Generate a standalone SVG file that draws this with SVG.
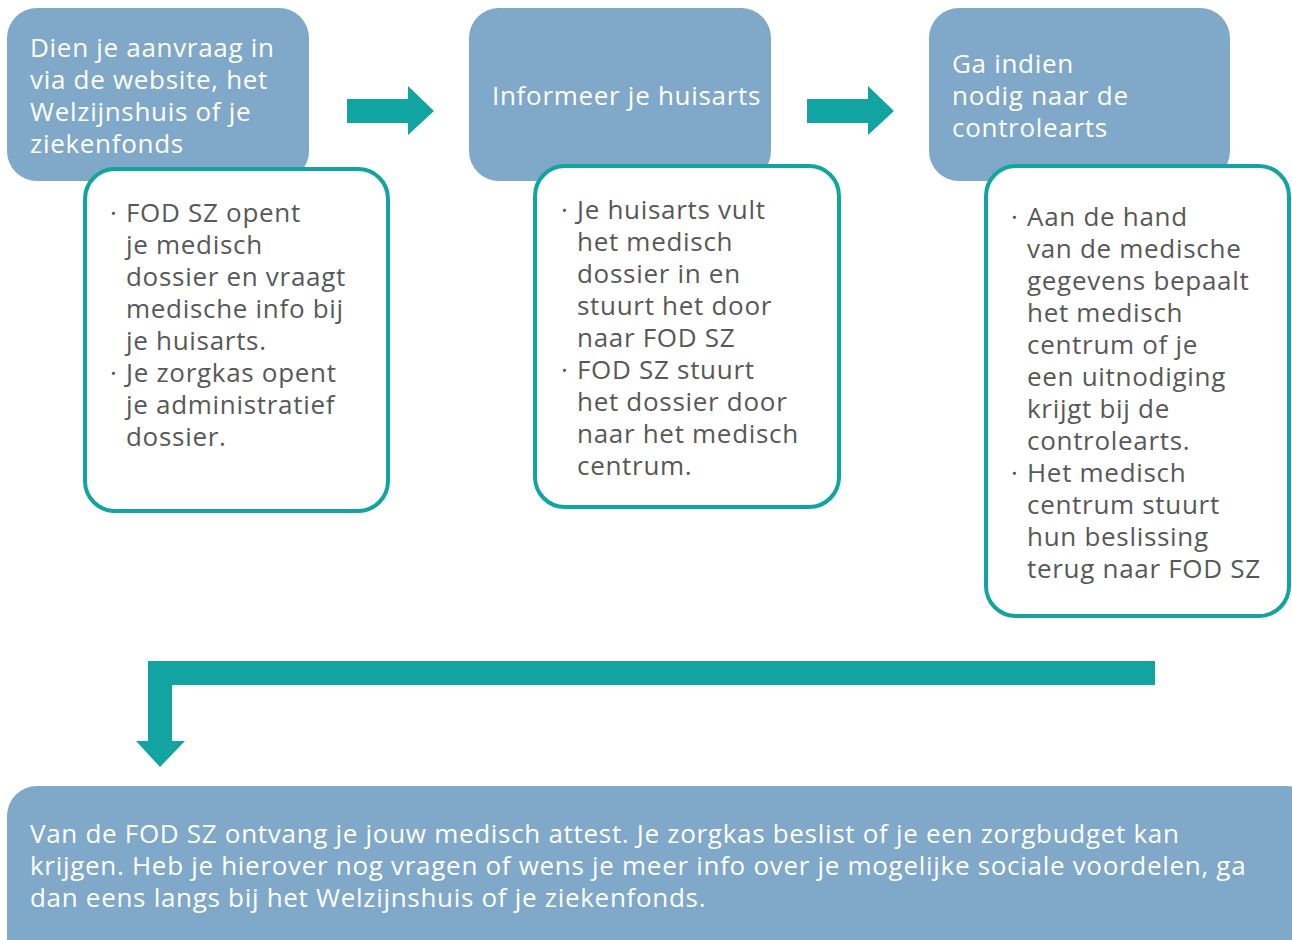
<svg xmlns="http://www.w3.org/2000/svg" width="1292" height="940" viewBox="0 0 1292 940">
<style>
.blue{fill:#7fa8c9}
.card{fill:#ffffff;stroke:#12a4a0;stroke-width:4}
.arrow{fill:#12a4a0}
text{font-family:"Open Sans","Noto Sans","Liberation Sans",sans-serif;font-size:26px;letter-spacing:0.7px}
.w{fill:#ffffff}
.g{fill:#585858}
</style>
<rect width="1292" height="940" fill="#ffffff"/>
<g id="step1">
<rect class="blue" x="7" y="8" width="302" height="173" rx="30"/>
<text class="w" x="30" y="57">Dien je aanvraag in</text>
<text class="w" x="30" y="89">via de website, het</text>
<text class="w" x="30" y="121">Welzijnshuis of je</text>
<text class="w" x="30" y="153">ziekenfonds</text>
</g>
<g id="detail1">
<rect class="card" x="85" y="169" width="303" height="342" rx="30"/>
<text class="g" x="110" y="222">·</text>
<text class="g" x="126" y="222">FOD SZ opent</text>
<text class="g" x="126" y="254">je medisch</text>
<text class="g" x="126" y="286">dossier en vraagt</text>
<text class="g" x="126" y="318">medische info bij</text>
<text class="g" x="126" y="350">je huisarts.</text>
<text class="g" x="110" y="382">·</text>
<text class="g" x="126" y="382">Je zorgkas opent</text>
<text class="g" x="126" y="414">je administratief</text>
<text class="g" x="126" y="446">dossier.</text>
</g>
<g id="step2">
<rect class="blue" x="469" y="8" width="302" height="173" rx="30"/>
<text class="w" x="492" y="105">Informeer je huisarts</text>
</g>
<g id="detail2">
<rect class="card" x="535" y="166" width="304" height="341" rx="30"/>
<text class="g" x="561" y="219">·</text>
<text class="g" x="577" y="219">Je huisarts vult</text>
<text class="g" x="577" y="251">het medisch</text>
<text class="g" x="577" y="283">dossier in en</text>
<text class="g" x="577" y="315">stuurt het door</text>
<text class="g" x="577" y="347">naar FOD SZ</text>
<text class="g" x="561" y="379">·</text>
<text class="g" x="577" y="379">FOD SZ stuurt</text>
<text class="g" x="577" y="411">het dossier door</text>
<text class="g" x="577" y="443">naar het medisch</text>
<text class="g" x="577" y="475">centrum.</text>
</g>
<g id="step3">
<rect class="blue" x="929" y="8" width="301" height="173" rx="30"/>
<text class="w" x="952" y="73">Ga indien</text>
<text class="w" x="952" y="105">nodig naar de</text>
<text class="w" x="952" y="137">controlearts</text>
</g>
<g id="detail3">
<rect class="card" x="986" y="166" width="303" height="450" rx="30"/>
<text class="g" x="1011" y="226">·</text>
<text class="g" x="1027" y="226">Aan de hand</text>
<text class="g" x="1027" y="258">van de medische</text>
<text class="g" x="1027" y="290">gegevens bepaalt</text>
<text class="g" x="1027" y="322">het medisch</text>
<text class="g" x="1027" y="354">centrum of je</text>
<text class="g" x="1027" y="386">een uitnodiging</text>
<text class="g" x="1027" y="418">krijgt bij de</text>
<text class="g" x="1027" y="450">controlearts.</text>
<text class="g" x="1011" y="482">·</text>
<text class="g" x="1027" y="482">Het medisch</text>
<text class="g" x="1027" y="514">centrum stuurt</text>
<text class="g" x="1027" y="546">hun beslissing</text>
<text class="g" x="1027" y="578">terug naar FOD SZ</text>
</g>
<g id="result">
<rect class="blue" x="7" y="786" width="1310" height="200" rx="30"/>
<text class="w" x="30" y="843">Van de FOD SZ ontvang je jouw medisch attest. Je zorgkas beslist of je een zorgbudget kan</text>
<text class="w" x="30" y="875">krijgen. Heb je hierover nog vragen of wens je meer info over je mogelijke sociale voordelen, ga</text>
<text class="w" x="30" y="907">dan eens langs bij het Welzijnshuis of je ziekenfonds.</text>
</g>
<g id="connectors">
<polygon class="arrow" points="347,99 408,99 408,86 434,111 408,135 408,123 347,123"/>
<polygon class="arrow" points="807,99 868,99 868,86 894,111 868,135 868,123 807,123"/>
<polygon class="arrow" points="1155,661 1155,685 172,685 172,741 185,741 160,767 136,741 148,741 148,661"/>
</g>
</svg>
